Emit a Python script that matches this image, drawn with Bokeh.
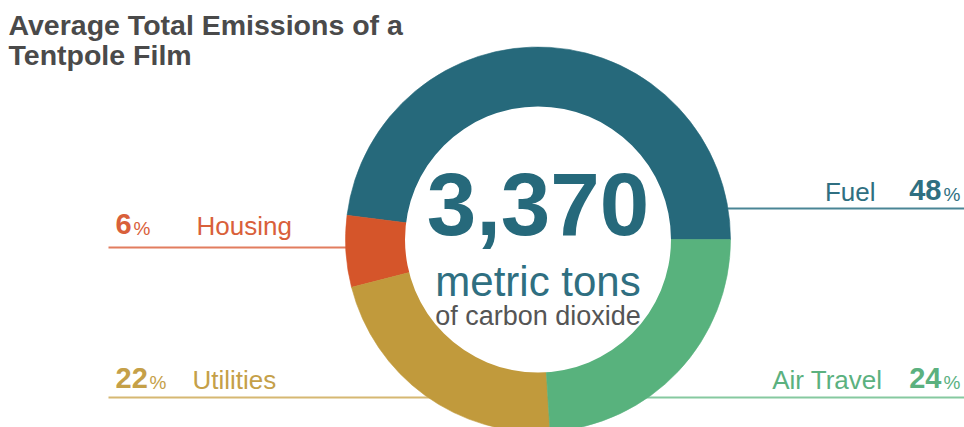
import numpy as np
from bokeh.plotting import figure
from bokeh.models import Range1d, ColumnDataSource
from bokeh.core.properties import value
from bokeh.embed import file_html
from bokeh.resources import INLINE

# ---------------- data ----------------
categories = ["Fuel", "Housing", "Utilities", "Air Travel"]
shares = [48, 6, 22, 24]                      # percent of total emissions
total_tons = 3370
title_lines = ["Average Total Emissions of a", "Tentpole Film"]
unit_main = "metric tons"
unit_sub = "of carbon dioxide"

# ---------------- styles ----------------
slice_colors = ["#26697b", "#d5552a", "#c19a3c", "#58b27d"]
line_colors = ["#4a8595", "#e27d5f", "#d6b872", "#86c9a0"]
label_colors = ["#2f6f81", "#d9603a", "#c5a048", "#5bb17f"]
FONT = "Liberation Sans"

IMG_H = 427
K = 0.38  # baseline correction factor (fraction of font size)

def Y(img_y):
    return IMG_H - img_y

def YT(base_y, size):
    """data y for a text whose visual baseline should sit at image y base_y"""
    return IMG_H - (base_y - K * size)

W, H = 964, 427
p = figure(width=W, height=H, x_range=Range1d(0, W), y_range=Range1d(0, H),
           output_backend="svg", toolbar_location=None,
           x_axis_location=None, y_axis_location=None, min_border=0)
p.grid.visible = False
p.outline_line_color = None
p.background_fill_color = "white"
p.border_fill_color = "white"

cx, cy = 537.5, Y(239)
R_out, R_in = 192.5, 133

# label layout: side, line y, text baseline y, name x, pct number x, pct sign x
layout = {
    "Fuel":       dict(side="right", line_y=208, base=201, name_x=875, num_x=941, sign_x=960),
    "Housing":    dict(side="left",  line_y=247, base=235, name_x=196, num_x=115, sign_x=133),
    "Utilities":  dict(side="left",  line_y=397, base=389, name_x=192, num_x=115, sign_x=149),
    "Air Travel": dict(side="right", line_y=397, base=389, name_x=882, num_x=941, sign_x=960),
}

# leader lines (drawn first, covered by the donut)
x0s, x1s, ys, lcs = [], [], [], []
for cat, lc in zip(categories, line_colors):
    L = layout[cat]
    if L["side"] == "left":
        x0s.append(108); x1s.append(cx)
    else:
        x0s.append(cx); x1s.append(W + 5)
    ys.append(Y(L["line_y"]))
    lcs.append(lc)
p.segment(x0=x0s, y0=ys, x1=x1s, y1=ys, line_color=lcs, line_width=2)

# donut
fr = np.array([0] + shares, dtype=float).cumsum() / sum(shares)
starts = fr[:-1] * 2 * np.pi
ends = fr[1:] * 2 * np.pi
src = ColumnDataSource(dict(start=starts, end=ends, color=slice_colors, cat=categories))
p.wedge(x=cx, y=cy, radius=R_out, start_angle="start", end_angle="end",
        fill_color="color", line_color="color", line_width=0.6, source=src)
p.circle(x=[cx], y=[cy], radius=R_in, fill_color="white", line_color=None)

def txt(x, base, s, size, color, align, bold=False):
    p.text(x=[x], y=[YT(base, size)], text=[s], text_font=value(FONT), text_font_size=f"{size}px",
           text_font_style="bold" if bold else "normal", text_color=color,
           text_align=align, text_baseline="alphabetic")

# category labels
for cat, share, col in zip(categories, shares, label_colors):
    L = layout[cat]
    align = "right" if L["side"] == "right" else "left"
    txt(L["name_x"], L["base"], cat, 26, col, align)
    txt(L["num_x"], L["base"], str(share), 29, col, align, bold=True)
    txt(L["sign_x"], L["base"], "%", 19, col, align)

# centre text
txt(cx, 237, f"{total_tons:,}", 89, slice_colors[0], "center", bold=True)
txt(cx, 297, unit_main, 42, "#2f6f81", "center")
txt(cx, 326, unit_sub, 27, "#555555", "center")

# title
for i, t in enumerate(title_lines):
    txt(8, 35 + 30 * i, t, 28.5, "#4a4a4a", "left", bold=True)

open("out.html", "w").write(file_html(p, INLINE))
